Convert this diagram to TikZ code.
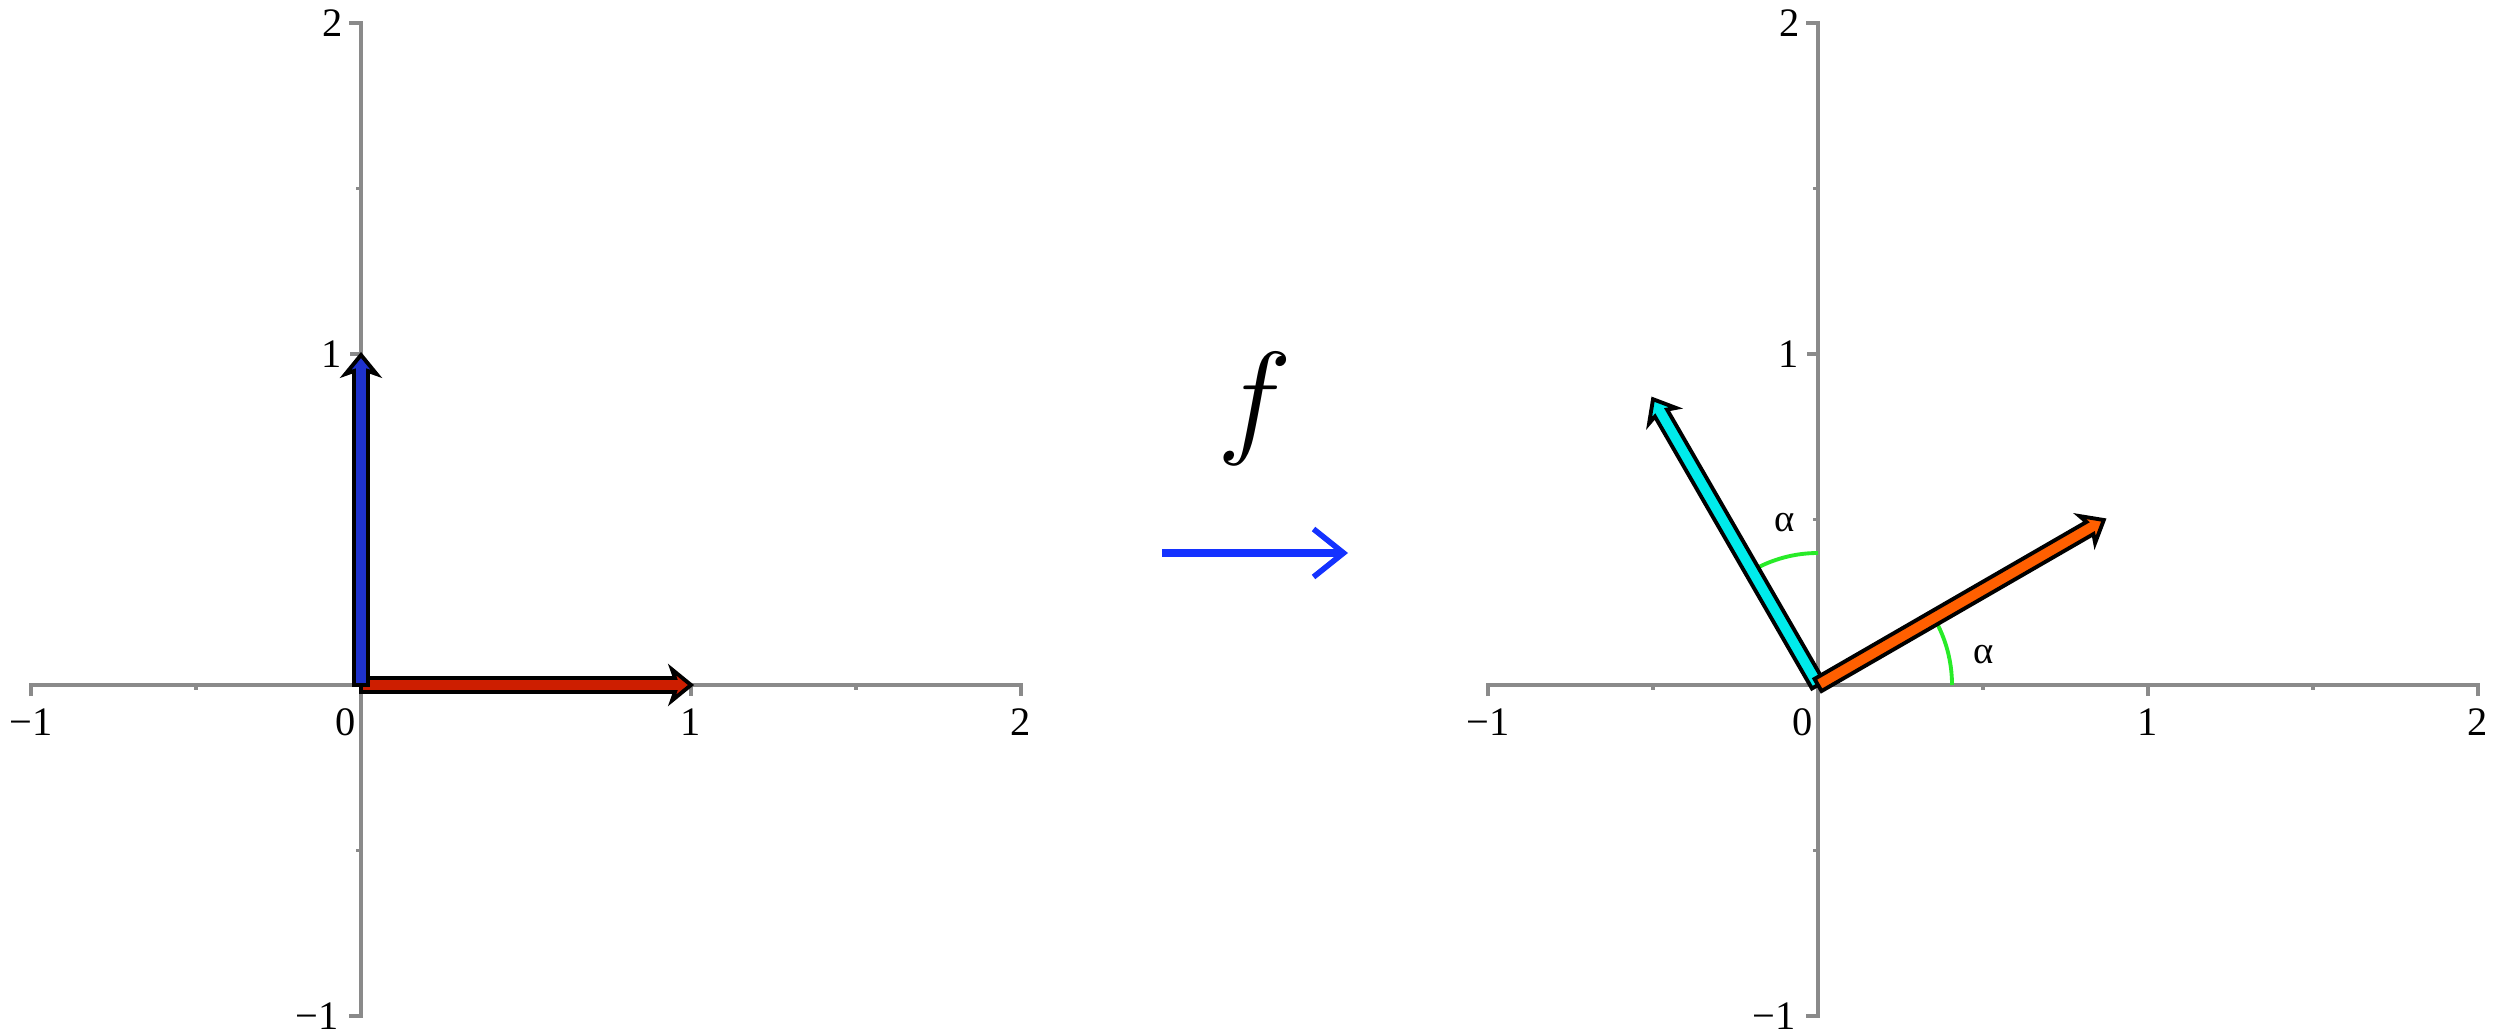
\documentclass[tikz,border=0pt]{standalone}
\usepackage{fix-cm}
\usepackage{fontspec}
\setmainfont{Liberation Serif}
\usetikzlibrary{arrows.meta}
\definecolor{axisgray}{RGB}{138,138,138}
\definecolor{vblue}{RGB}{30,50,205}
\definecolor{vred}{RGB}{205,30,0}
\definecolor{vcyan}{RGB}{0,235,235}
\definecolor{vorange}{RGB}{255,95,0}
\definecolor{fblue}{RGB}{20,50,255}
\definecolor{arcgreen}{RGB}{40,235,40}
\tikzset{
  axisline/.style={draw=axisgray, line width=0.9pt},
  ticklbl/.style={font=\fontsize{11.5}{12}\selectfont, inner sep=0pt},
  fatarrow/.style={draw=black, line width=1.1pt, line join=miter},
  greenarc/.style={draw=arcgreen, line width=1.1pt},
  alphalbl/.style={font=\fontsize{11}{12}\selectfont, inner sep=0pt}
}
\newcommand\plotaxes[1]{%
  \draw[axisline] ([xshift=-0.12cm]0,2) -- (0,2) -- (0,-1) -- ([xshift=-0.12cm]0,-1);
  \draw[axisline] ([yshift=-0.11cm]-1,0) -- (-1,0) -- (2,0) -- ([yshift=-0.11cm]2,0);
  \draw[axisline] (1,0) -- ++(0,-0.11cm);
  \foreach \t in {-0.5,0.5,1.5} \draw[axisline] (\t,0) -- ++(0,-0.05cm);
  \draw[axisline] (0,1) -- ++(-0.11cm,0);
  \foreach \t in {-0.5,0.5,1.5} \draw[axisline] (0,\t) -- ++(-0.05cm,0);
  \node[ticklbl] (#1xm1) at ([yshift=-0.37cm]-1,0) {−1};
  \node[ticklbl] (#1x0) at ([xshift=-0.15cm,yshift=-0.37cm]0,0) {0};
  \node[ticklbl] (#1x1) at ([yshift=-0.37cm]1,0) {1};
  \node[ticklbl] (#1x2) at ([yshift=-0.37cm]2,0) {2};
  \node[ticklbl, anchor=east] (#1y2) at ([xshift=-0.18cm]0,2) {2};
  \node[ticklbl, anchor=east] (#1y1) at ([xshift=-0.19cm]0,1) {1};
  \node[ticklbl, anchor=east] (#1ym1) at ([xshift=-0.22cm]0,-1) {−1};
}
% fat arrow along +x, length 3.3cm
\newcommand\fatarr[2]{%
  \begin{scope}[rotate=#1]
    \filldraw[fatarrow, fill=#2]
      (0,-0.07) -- (3.14,-0.07) -- (3.11,-0.155) -- (3.3,0)
      -- (3.11,0.155) -- (3.14,0.07) -- (0,0.07) -- cycle;
  \end{scope}
}
\begin{document}
\begin{tikzpicture}
\useasboundingbox (0,0) rectangle (25.09,10.33);
\coordinate (OL) at (3.61,3.48);
\coordinate (OR) at (18.18,3.48);
% left plot
\begin{scope}[shift={(OL)}, x=3.3cm, y=3.31cm]
  \plotaxes{L}
\end{scope}
\begin{scope}[shift={(OL)}]
  \fatarr{0}{vred}
  \fatarr{90}{vblue}
\end{scope}
% right plot
\begin{scope}[shift={(OR)}, x=3.3cm, y=3.31cm]
  \plotaxes{R}
\end{scope}
\begin{scope}[shift={(OR)}]
  \draw[greenarc] (1.34,0) arc[start angle=0, end angle=30, radius=1.34];
  \draw[greenarc] (0,1.32) arc[start angle=90, end angle=120, radius=1.32];
  \fatarr{120}{vcyan}
  \fatarr{30}{vorange}
  \node[alphalbl] (a1) at (1.66,0.30) {α};
  \node[alphalbl] (a2) at (-0.33,1.62) {α};
\end{scope}
% mapping arrow
\coordinate (fa) at (11.62,4.80);
\coordinate (fb) at (13.48,4.80);
\draw[draw=fblue, line width=2.1pt, -{Straight Barb[length=0.3cm, width=0.48cm, line width=1.6pt]}] (fa) -- (fb);
\node (flabel) at (12.55,6.24) {\fontsize{36}{40}\selectfont$f$};
\end{tikzpicture}
\end{document}
